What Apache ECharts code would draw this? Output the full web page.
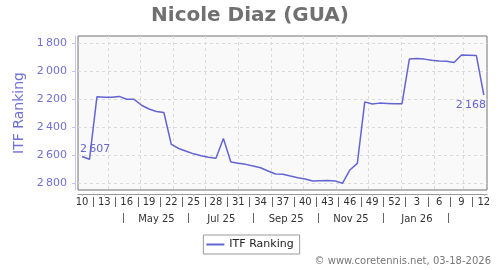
<!DOCTYPE html>
<html><head><meta charset="utf-8">
<script src="https://cdn.jsdelivr.net/npm/echarts@6/dist/echarts.min.js"></script>
<style>html,body{margin:0;padding:0;background:#fff}#c{width:500px;height:270px}</style>
</head><body><div id="c"></div>
<script>
// ITF ranking, weekly (day 0 = 1 Mar 2025)
const ranks = [2607, 2627, 2181, 2184, 2184, 2178, 2198, 2199, 2241, 2268, 2286, 2293,
  2521, 2550, 2569, 2588, 2602, 2612, 2620, 2478, 2646, 2655, 2663, 2675, 2687, 2710,
  2732, 2733, 2746, 2758, 2767, 2782, 2780, 2778, 2781, 2798, 2703, 2656, 2217, 2232,
  2226, 2228, 2230, 2231, 1911, 1907, 1912, 1920, 1925, 1927, 1936, 1883, 1885, 1887, 2168];
const firstDay = 6;
const stepDays = 7;
const weekLabels = ['10','13','16','19','22','25','28','31','34','37','40','43','46','49','52','3','6','9','12'];
const weekLabelStep = 3;
const monthLabels = ['May 25','Jul 25','Sep 25','Nov 25','Jan 26'];
const monthLabelDays = [76, 137, 198, 259, 321];
const monthSepDays = [45, 106, 167, 228, 289, 351];
const monthStartDays = [31, 61, 92, 122, 153, 184, 214, 245, 275, 306, 337, 365];
const yTicks = [1800, 2000, 2200, 2400, 2600, 2800];
const xMin = 2.2, xMax = 387;
const yMin = 1747, yMax = 2846;

const fmt = v => String(v).replace(/\B(?=(\d{3})+(?!\d))/g, '\u2009');
const weekDays = weekLabels.map((_, k) => firstDay + k * weekLabelStep * stepDays);
const weekSepDays = weekDays.slice(0, -1).map(d => d + weekLabelStep * stepDays / 2);
const lineColor = '#6464d2';
const purple = '#7070d4';

const data = ranks.map((r, i) => {
  const item = { value: [firstDay + i * stepDays, r] };
  if (i === 0) item.label = { show: true, position: 'top', offset: [13, 3] };
  if (i === ranks.length - 1) item.label = { show: true, position: 'bottom', offset: [-13, 0] };
  return item;
});

const hiddenAxis = (extra) => Object.assign({
  type: 'value', min: xMin, max: xMax, position: 'bottom',
  axisLine: { show: false }, splitLine: { show: false },
  axisLabel: { show: false }, axisTick: { show: false }
}, extra);

const chart = echarts.init(document.getElementById('c'), null, { renderer: 'canvas' });
chart.setOption({
  animation: false,
  textStyle: { fontFamily: 'DejaVu Sans' },
  title: {
    text: 'Nicole Diaz (GUA)', left: 'center', top: 1,
    textStyle: { fontFamily: 'DejaVu Sans', fontWeight: 'bold', fontSize: 20, color: '#707070' }
  },
  grid: {
    left: 78, right: 13, top: 36, bottom: 80, show: true,
    backgroundColor: '#f9f9f9', borderColor: '#707070', borderWidth: 1
  },
  legend: {
    data: ['ITF Ranking'], left: 'center', top: 235,
    icon: 'rect', itemWidth: 18, itemHeight: 2,
    padding: [4, 6, 4, 3], borderColor: '#999', borderWidth: 1, borderRadius: 0,
    textStyle: { fontFamily: 'DejaVu Sans', fontSize: 11, color: '#222' }
  },
  xAxis: [
    {
      type: 'value', min: xMin, max: xMax, position: 'bottom', offset: 4,
      axisLine: { show: true, lineStyle: { color: '#999', width: 1 } },
      axisTick: { show: true, length: 2, customValues: weekDays, lineStyle: { color: '#bbb' } },
      axisLabel: {
        customValues: weekDays, margin: 3, fontSize: 10, color: '#333', fontFamily: 'DejaVu Sans',
        formatter: v => weekLabels[Math.round((v - firstDay) / (weekLabelStep * stepDays))]
      },
      splitLine: { show: false }
    },
    hiddenAxis({
      axisTick: { show: false, customValues: monthStartDays },
      splitLine: { show: true, lineStyle: { color: '#dadada', type: [3, 3], width: 1 } }
    }),
    hiddenAxis({
      offset: 7,
      axisTick: { show: true, length: 10, customValues: weekSepDays, lineStyle: { color: '#666' } }
    }),
    hiddenAxis({
      offset: 23,
      axisTick: { show: true, length: 10, customValues: monthSepDays, lineStyle: { color: '#666' } },
      axisLabel: {
        show: true, customValues: monthLabelDays, margin: 1, fontSize: 10, color: '#333', fontFamily: 'DejaVu Sans',
        formatter: v => monthLabels[monthLabelDays.indexOf(v)]
      }
    })
  ],
  yAxis: {
    type: 'value', inverse: true, min: yMin, max: yMax, offset: 3,
    name: 'ITF Ranking', nameLocation: 'middle', nameGap: 44,
    nameTextStyle: { color: purple, fontSize: 14, fontFamily: 'DejaVu Sans' },
    axisLine: { show: true, lineStyle: { color: '#c4c4ee', width: 1 } },
    axisTick: { show: true, length: 3, customValues: yTicks, lineStyle: { color: '#c4c4ee' } },
    axisLabel: { customValues: yTicks, margin: 8, fontSize: 11, color: purple, formatter: v => fmt(v) },
    splitLine: { show: true, lineStyle: { color: '#dadada', type: [3, 3], width: 1 } }
  },
  series: [{
    name: 'ITF Ranking', type: 'line', data: data,
    xAxisIndex: 0,
    symbol: 'circle', symbolSize: 0, showSymbol: true,
    lineStyle: { color: lineColor, width: 1.5 },
    itemStyle: { color: lineColor },
    label: { show: false, fontSize: 11, color: lineColor, fontFamily: 'DejaVu Sans', formatter: p => fmt(p.value[1]) }
  }],
  graphic: [{
    type: 'text', right: 9, top: 256,
    style: { text: '\u00a9 www.coretennis.net, 03-18-2026', fontSize: 10, fill: '#777', fontFamily: 'DejaVu Sans' }
  }]
});
</script></body></html>
